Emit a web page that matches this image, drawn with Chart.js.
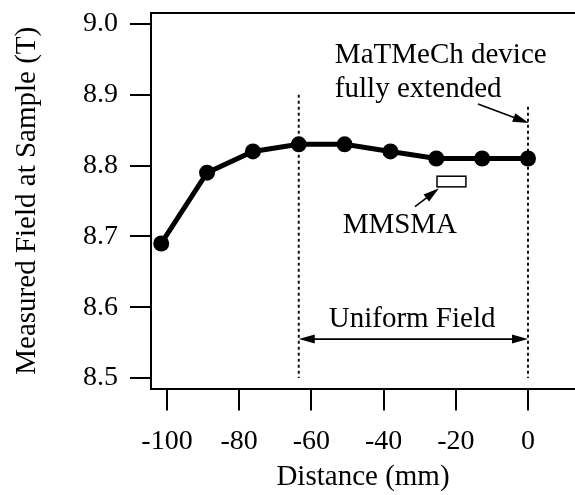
<!DOCTYPE html>
<html>
<head>
<meta charset="utf-8">
<script src="https://cdn.jsdelivr.net/npm/chart.js@4.4.0/dist/chart.umd.min.js"></script>
<style>
  html, body { margin: 0; padding: 0; background: #fff; }
  #wrap { width: 575px; height: 495px; }
</style>
</head>
<body>
<div id="wrap"><canvas id="chart"></canvas></div>
<script>
// measured points (distance in mm, field in T)
const distances = [-101.6, -88.9, -76.2, -63.5, -50.8, -38.1, -25.4, -12.7, 0];
const fieldValues = [8.69, 8.79, 8.82, 8.83, 8.83, 8.82, 8.81, 8.81, 8.81];
const xTickValues = [-100, -80, -60, -40, -20, 0];
const yTickValues = [8.5, 8.6, 8.7, 8.8, 8.9, 9.0];

const FONT = 'Liberation Serif';

function arrowHead(ctx, x0, y0, x1, y1, len, half) {
  const a = Math.atan2(y1 - y0, x1 - x0);
  ctx.beginPath();
  ctx.moveTo(x1, y1);
  ctx.lineTo(x1 - len * Math.cos(a) + half * Math.sin(a), y1 - len * Math.sin(a) - half * Math.cos(a));
  ctx.lineTo(x1 - len * Math.cos(a) - half * Math.sin(a), y1 - len * Math.sin(a) + half * Math.cos(a));
  ctx.closePath();
  ctx.fill();
}

function arrow(ctx, x0, y0, x1, y1, both) {
  const len = 16, half = 4.5;
  const a = Math.atan2(y1 - y0, x1 - x0);
  ctx.beginPath();
  ctx.moveTo(both ? x0 + len * Math.cos(a) * 0.8 : x0, both ? y0 + len * Math.sin(a) * 0.8 : y0);
  ctx.lineTo(x1 - len * Math.cos(a) * 0.8, y1 - len * Math.sin(a) * 0.8);
  ctx.stroke();
  arrowHead(ctx, x0, y0, x1, y1, len, half);
  if (both) arrowHead(ctx, x1, y1, x0, y0, len, half);
}

const annotations = {
  id: 'annotations',
  beforeDatasetsDraw(chart) {
    const { ctx, scales: { x, y } } = chart;
    ctx.save();
    ctx.strokeStyle = '#111';
    ctx.lineWidth = 2;
    ctx.setLineDash([3, 3]);
    ctx.beginPath();
    ctx.moveTo(x.getPixelForValue(-63.5), y.getPixelForValue(8.9));
    ctx.lineTo(x.getPixelForValue(-63.5), y.getPixelForValue(8.5));
    ctx.moveTo(x.getPixelForValue(0), y.getPixelForValue(8.883));
    ctx.lineTo(x.getPixelForValue(0), y.getPixelForValue(8.5));
    ctx.stroke();
    ctx.restore();
  },
  afterDraw(chart) {
    const { ctx, chartArea, scales: { x, y } } = chart;
    ctx.save();
    // top frame line
    ctx.strokeStyle = '#000';
    ctx.lineWidth = 2;
    ctx.beginPath();
    ctx.moveTo(chartArea.left, chartArea.top);
    ctx.lineTo(chartArea.right, chartArea.top);
    ctx.stroke();

    ctx.fillStyle = '#000';
    ctx.lineWidth = 1.6;
    ctx.font = '29px "' + FONT + '"';
    ctx.textBaseline = 'alphabetic';

    // uniform field span
    const ya = y.getPixelForValue(8.555);
    arrow(ctx, x.getPixelForValue(-63.5), ya, x.getPixelForValue(0), ya, true);
    ctx.textAlign = 'center';
    ctx.fillText('Uniform Field', x.getPixelForValue(-32.1), 327);

    // device label
    ctx.textAlign = 'left';
    ctx.fillText('MaTMeCh device', x.getPixelForValue(-53.5), 63);
    ctx.fillText('fully extended', x.getPixelForValue(-53.5), 97);
    arrow(ctx, x.getPixelForValue(-13.85), y.getPixelForValue(8.887),
      x.getPixelForValue(0.2), y.getPixelForValue(8.860), false);

    // MMSMA sample box
    const bx0 = x.getPixelForValue(-25.2), bx1 = x.getPixelForValue(-17.2);
    const by0 = y.getPixelForValue(8.785), by1 = y.getPixelForValue(8.770);
    ctx.lineWidth = 1.5;
    ctx.strokeRect(bx0, by0, bx1 - bx0, by1 - by0);
    ctx.lineWidth = 1.6;
    arrow(ctx, x.getPixelForValue(-31.3), y.getPixelForValue(8.742),
      x.getPixelForValue(-24.65), y.getPixelForValue(8.768), false);
    ctx.textAlign = 'center';
    ctx.fillText('MMSMA', x.getPixelForValue(-35.5), 233);
    ctx.restore();
  }
};

new Chart(document.getElementById('chart'), {
  type: 'line',
  data: {
    datasets: [{
      data: distances.map((d, i) => ({ x: d, y: fieldValues[i] })),
      borderColor: '#000',
      backgroundColor: '#000',
      borderWidth: 5,
      pointRadius: 8,
      pointBackgroundColor: '#000',
      pointBorderWidth: 0,
      tension: 0,
      clip: false
    }]
  },
  options: {
    responsive: true,
    maintainAspectRatio: false,
    animation: false,
    layout: { autoPadding: false, padding: { top: 13, left: 0, right: 0, bottom: 0 } },
    plugins: { legend: { display: false }, tooltip: { enabled: false } },
    scales: {
      x: {
        type: 'linear',
        min: -104.43,
        max: 13.02,
        afterBuildTicks: s => { s.ticks = xTickValues.map(v => ({ value: v })); },
        afterFit: s => { s.height = 106.5; s.paddingLeft = 0; s.paddingRight = 0; },
        ticks: {
          color: '#000',
          font: { family: FONT, size: 28 },
          padding: 14,
          maxRotation: 0,
          callback: v => String(v)
        },
        grid: { drawOnChartArea: false, drawTicks: true, tickLength: 22, color: '#000', lineWidth: 2 },
        border: { display: true, color: '#000', width: 2 },
        title: {
          display: true,
          text: 'Distance (mm)',
          color: '#000',
          font: { family: FONT, size: 29 },
          padding: { top: 0, bottom: 0 }
        }
      },
      y: {
        min: 8.4852,
        max: 9.0155,
        afterBuildTicks: s => { s.ticks = yTickValues.map(v => ({ value: v })); },
        afterFit: s => { s.width = 151; s.paddingTop = 0; s.paddingBottom = 0; },
        ticks: {
          color: '#000',
          font: { family: FONT, size: 28 },
          padding: 12,
          callback: v => v.toFixed(1)
        },
        grid: { drawOnChartArea: false, drawTicks: true, tickLength: 21, color: '#000', lineWidth: 2 },
        border: { display: true, color: '#000', width: 2 },
        title: {
          display: true,
          text: 'Measured Field at Sample (T)',
          color: '#000',
          font: { family: FONT, size: 29 },
          padding: { top: 10, bottom: 0 }
        }
      }
    }
  },
  plugins: [annotations]
});
</script>
</body>
</html>
